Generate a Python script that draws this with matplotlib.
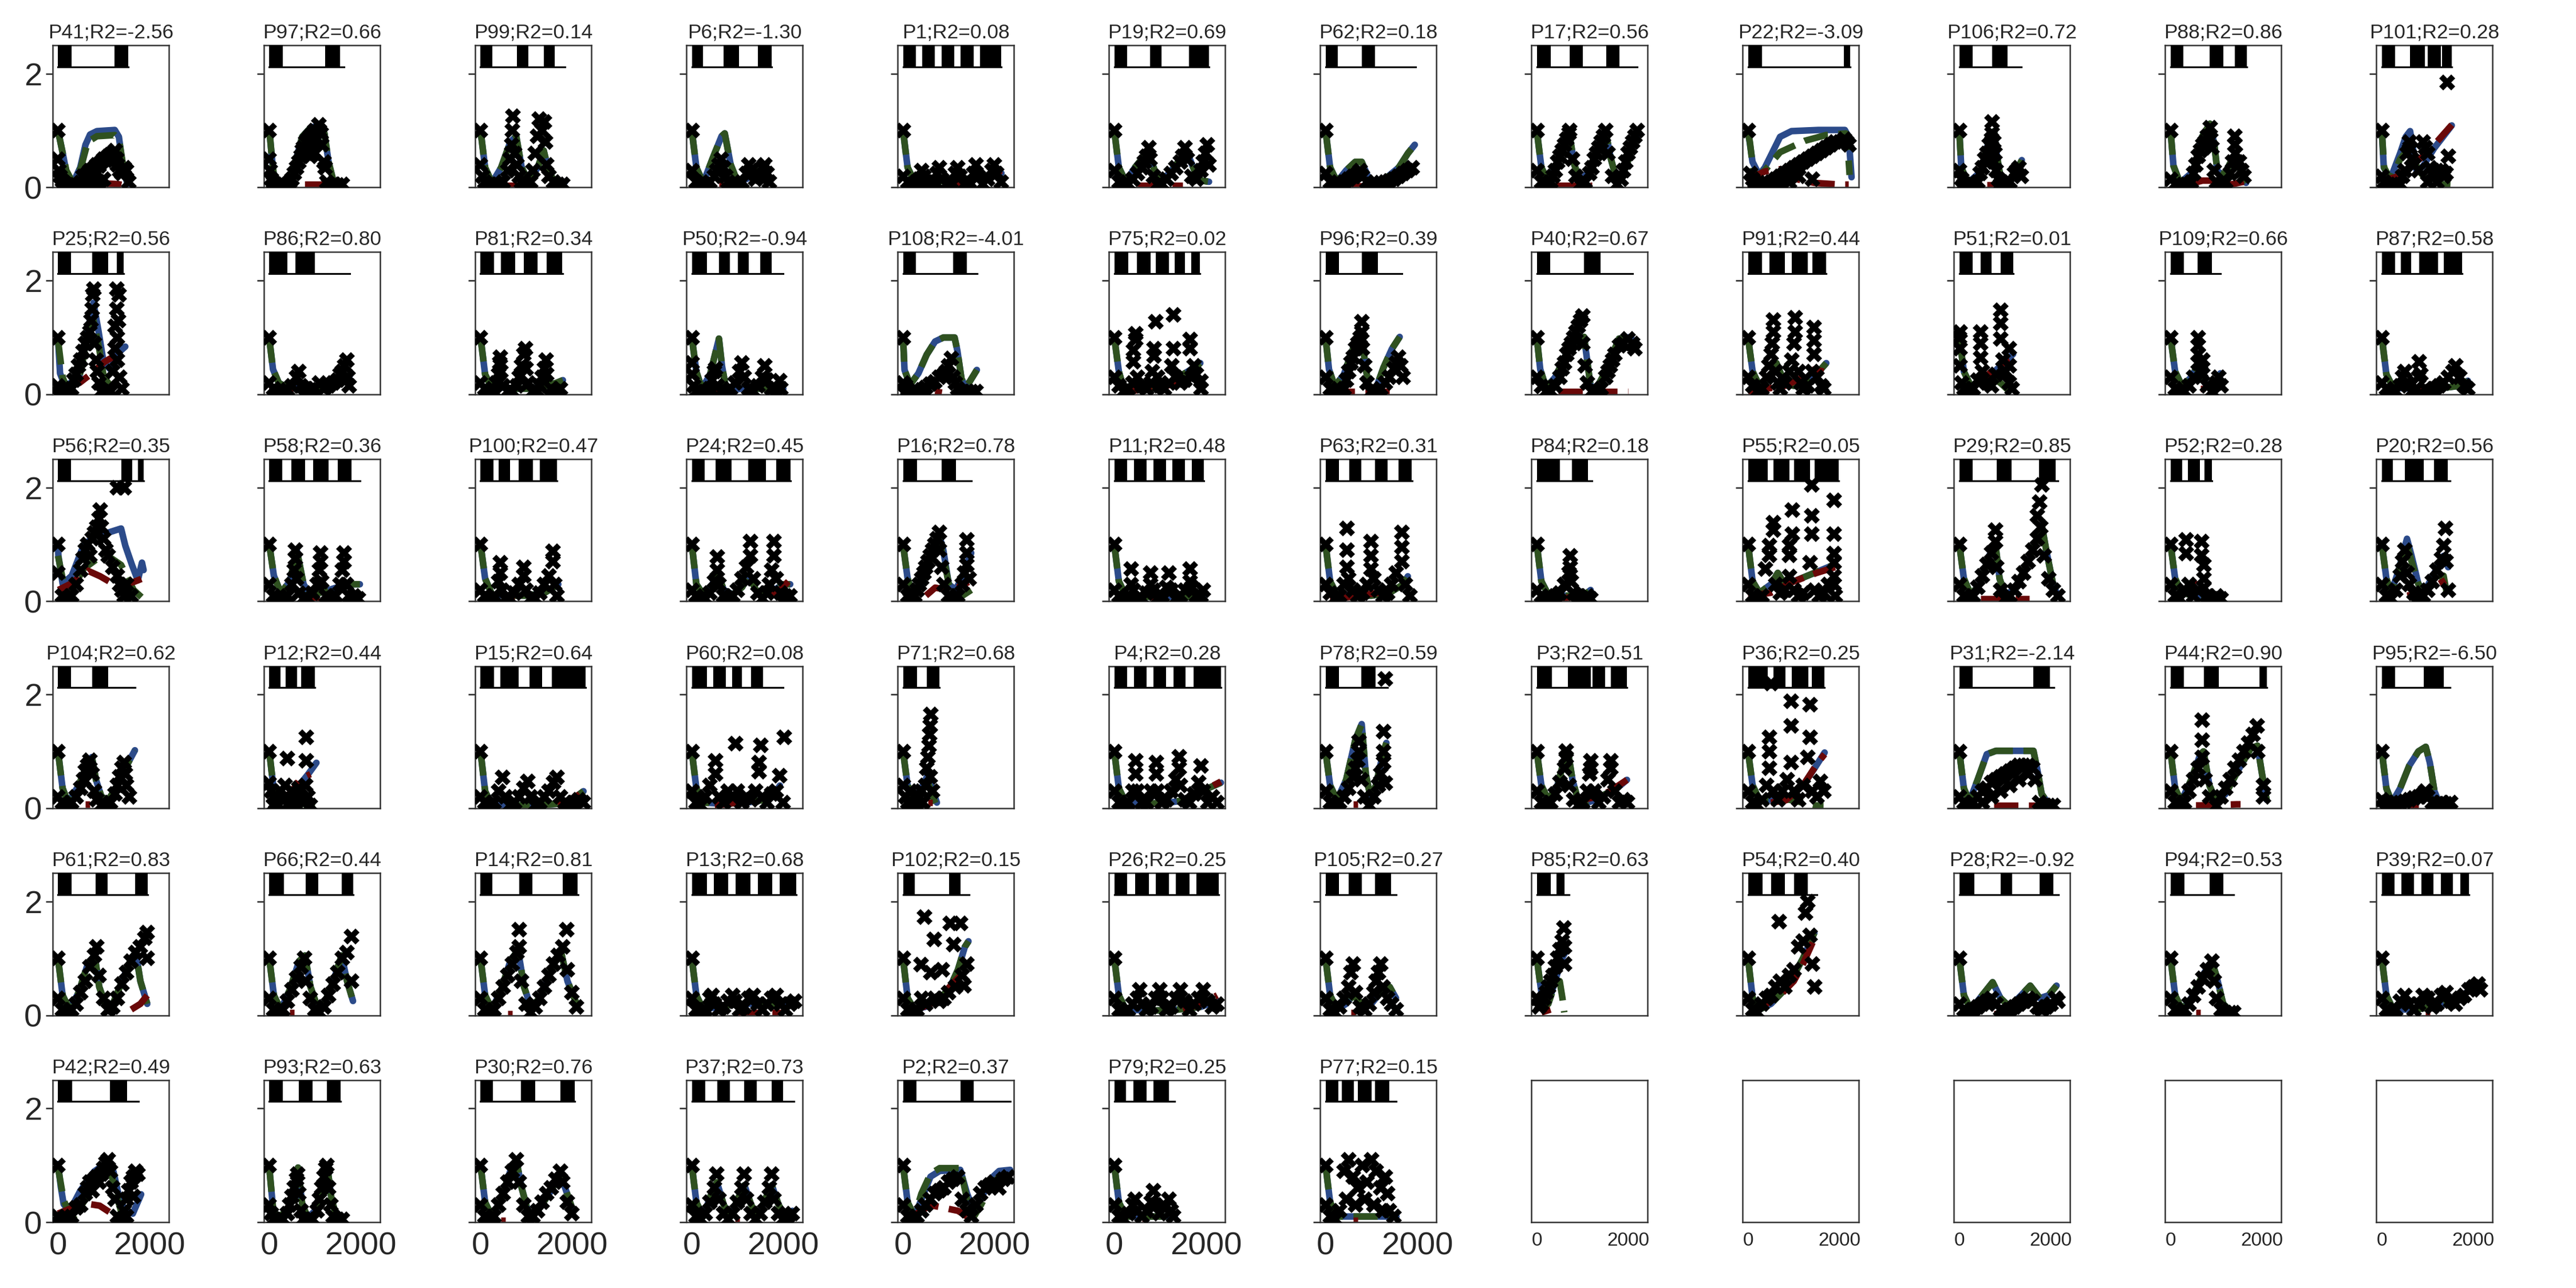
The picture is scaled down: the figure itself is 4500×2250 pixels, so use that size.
import numpy as np
import matplotlib
matplotlib.use("Agg")
import matplotlib.pyplot as plt

plt.rcParams['font.family'] = ['Liberation Sans', 'DejaVu Sans']

# panel labels and fit quality, row by row (6 x 12 grid, last 5 empty)
panel_ids = ["P41", "P97", "P99", "P6", "P1", "P19", "P62", "P17", "P22", "P106", "P88", "P101",
             "P25", "P86", "P81", "P50", "P108", "P75", "P96", "P40", "P91", "P51", "P109", "P87",
             "P56", "P58", "P100", "P24", "P16", "P11", "P63", "P84", "P55", "P29", "P52", "P20",
             "P104", "P12", "P15", "P60", "P71", "P4", "P78", "P3", "P36", "P31", "P44", "P95",
             "P61", "P66", "P14", "P13", "P102", "P26", "P105", "P85", "P54", "P28", "P94", "P39",
             "P42", "P93", "P30", "P37", "P2", "P79", "P77"]
r2_values = [-2.56, 0.66, 0.14, -1.30, 0.08, 0.69, 0.18, 0.56, -3.09, 0.72, 0.86, 0.28,
             0.56, 0.80, 0.34, -0.94, -4.01, 0.02, 0.39, 0.67, 0.44, 0.01, 0.66, 0.58,
             0.35, 0.36, 0.47, 0.45, 0.78, 0.48, 0.31, 0.18, 0.05, 0.85, 0.28, 0.56,
             0.62, 0.44, 0.64, 0.08, 0.68, 0.28, 0.59, 0.51, 0.25, -2.14, 0.90, -6.50,
             0.83, 0.44, 0.81, 0.68, 0.15, 0.25, 0.27, 0.63, 0.40, -0.92, 0.53, 0.07,
             0.49, 0.63, 0.76, 0.73, 0.37, 0.25, 0.15]

# dark periods of the protocol (black blocks) and protocol length
stim_on = [
    [(0, 290), (1240, 1530)], [(0, 293), (1220, 1546)], [(0, 260), (800, 1050), (1380, 1620)],
    [(0, 250), (700, 1030), (1450, 1750)], [(0, 280), (420, 700), (840, 1120), (1260, 1540), (1680, 2150)],
    [(0, 280), (780, 1030), (1630, 2070)], [(0, 270), (790, 1080)], [(0, 300), (720, 1000), (1520, 1800)],
    [(0, 300), (2090, 2230)], [(0, 285), (720, 1050)], [(0, 284), (860, 1150), (1410, 1670)],
    [(0, 285), (620, 935), (1000, 1290), (1320, 1530)],
    [(0, 282), (740, 1100), (1290, 1430)], [(0, 392), (574, 994)], [(0, 290), (450, 760), (950, 1250), (1450, 1780)],
    [(0, 330), (590, 830), (1010, 1250), (1500, 1740)], [(0, 287), (1096, 1400)],
    [(0, 310), (490, 790), (910, 1200), (1320, 1550), (1680, 1865)], [(0, 290), (790, 1140)],
    [(0, 290), (1034, 1390)], [(0, 300), (470, 800), (950, 1300), (1400, 1700)], [(0, 290), (470, 700), (910, 1180)],
    [(0, 290), (590, 910)], [(0, 290), (410, 640), (820, 1230), (1350, 1760)],
    [(0, 282), (1380, 1616), (1744, 1872)], [(0, 280), (480, 780), (960, 1300), (1500, 1800)],
    [(0, 280), (400, 650), (830, 1150), (1300, 1670)], [(0, 280), (520, 870), (1230, 1620), (1840, 2160)],
    [(0, 300), (850, 1160)], [(0, 280), (430, 700), (850, 1130), (1270, 1550), (1700, 1960)],
    [(0, 290), (520, 786), (1080, 1350), (1600, 1887)], [(0, 500), (770, 1120)],
    [(0, 430), (550, 900), (1000, 1350), (1450, 1980)], [(0, 290), (820, 1140), (1745, 2100)],
    [(0, 255), (380, 645), (735, 910)], [(0, 235), (500, 910), (1140, 1440)],
    [(0, 282), (740, 1100)], [(0, 245), (355, 610), (700, 995)], [(0, 290), (430, 830), (1070, 1340), (1560, 2300)],
    [(0, 330), (470, 740), (880, 1100), (1290, 1560)], [(0, 300), (520, 795)],
    [(0, 280), (430, 700), (860, 1130), (1290, 1560), (1730, 2330)], [(0, 290), (786, 1088)],
    [(0, 325), (680, 1180), (1215, 1495), (1620, 1975)], [(0, 430), (555, 820), (960, 1320), (1390, 1670)],
    [(0, 290), (1620, 1976)], [(0, 290), (733, 1052), (1940, 2100)], [(0, 290), (910, 1354)],
    [(0, 300), (820, 1080), (1680, 1960)], [(0, 320), (790, 1077), (1580, 1830)], [(0, 260), (840, 1130), (1800, 2120)],
    [(0, 330), (480, 800), (960, 1280), (1440, 1760), (1920, 2280)], [(0, 250), (1010, 1260)],
    [(0, 280), (450, 750), (900, 1200), (1350, 1650), (1800, 2280)], [(0, 290), (500, 790), (1080, 1430)],
    [(0, 300), (430, 600)], [(0, 320), (500, 800), (1000, 1300)], [(0, 330), (900, 1150), (1760, 2060)],
    [(0, 300), (850, 1150)], [(0, 280), (430, 700), (860, 1130), (1290, 1560), (1720, 1900)],
    [(0, 304), (1138, 1514)], [(0, 293), (640, 944), (1254, 1558)], [(0, 265), (880, 1190), (1750, 2060)],
    [(0, 300), (560, 830), (1150, 1420), (1750, 2000)], [(0, 290), (1260, 1550)],
    [(0, 260), (420, 700), (860, 1200)], [(0, 280), (350, 620), (700, 1000), (1080, 1400)],
]
stim_end = [1530, 1640, 1850, 1750, 2150, 2070, 1975, 2200, 2230, 1356, 1670, 1530,
            1430, 1760, 1800, 2000, 1625, 1865, 1675, 2100, 1710, 1180, 1090, 1760,
            1872, 1980, 1670, 2160, 1490, 1960, 1890, 1210, 1980, 2150, 910, 1490,
            1690, 995, 2300, 2000, 795, 2330, 1354, 1975, 1670, 2065, 2100, 1496,
            1960, 1830, 2130, 2280, 1440, 2280, 1540, 700, 1500, 2170, 1380, 1900,
            1755, 1558, 2060, 2230, 2340, 1320, 1550]

# model fit 1 (blue), flat x,y pairs
fit_blue = [
    [0, 1.0, 90, 0.65, 180, 0.28, 330, 0.08, 485, 0.35, 600, 0.75, 700, 0.93, 850, 0.99, 1240, 1.01, 1330, 0.89, 1420, 0.35, 1510, 0.08, 1570, 0.03],
    [0, 1.02, 60, 0.5, 111, 0.12, 233, 0.03, 400, 0.12, 537, 0.35, 719, 0.89, 900, 1.05, 1083, 1.09, 1205, 0.95, 1296, 0.45, 1388, 0.15, 1448, 0.07],
    [0, 1.0, 100, 0.35, 250, 0.08, 450, 0.35, 650, 0.8, 780, 0.9, 900, 0.35, 1050, 0.1, 1250, 0.35, 1380, 0.65, 1500, 0.25, 1650, 0.08, 1850, 0.1],
    [0, 1.0, 100, 0.35, 250, 0.08, 450, 0.5, 650, 0.9, 720, 0.95, 850, 0.4, 1000, 0.1, 1200, 0.15, 1400, 0.3, 1500, 0.2, 1700, 0.08],
    [0, 1.0, 100, 0.35, 250, 0.1, 600, 0.1, 1000, 0.12, 1400, 0.15, 1800, 0.2, 2150, 0.25],
    [0, 1.0, 100, 0.35, 250, 0.1, 450, 0.35, 650, 0.55, 760, 0.6, 880, 0.3, 1000, 0.1, 1200, 0.25, 1450, 0.5, 1600, 0.6, 1750, 0.3, 1900, 0.12, 2070, 0.1],
    [0, 1.0, 100, 0.35, 250, 0.1, 450, 0.3, 650, 0.45, 790, 0.45, 950, 0.15, 1100, 0.08, 1300, 0.15, 1600, 0.35, 1800, 0.6, 1950, 0.75],
    [0, 1.0, 100, 0.35, 250, 0.1, 450, 0.45, 620, 0.9, 700, 1.0, 820, 0.4, 950, 0.1, 1150, 0.3, 1350, 0.75, 1500, 1.0, 1620, 0.5, 1750, 0.12, 1950, 0.35, 2100, 0.75, 2200, 0.9],
    [0, 0.99, 97, 0.45, 242, 0.22, 367, 0.35, 534, 0.62, 700, 0.89, 950, 0.99, 1533, 1.01, 2116, 1.01, 2199, 0.89, 2262, 0.18],
    [0, 0.99, 43, 0.35, 187, 0.08, 474, 0.28, 666, 0.89, 762, 0.99, 810, 0.62, 906, 0.15, 1097, 0.08, 1289, 0.35, 1366, 0.48],
    [0, 1.0, 63, 0.38, 207, 0.08, 495, 0.28, 688, 0.89, 861, 1.12, 957, 0.75, 1024, 0.28, 1169, 0.22, 1361, 0.52, 1457, 0.48, 1573, 0.18, 1650, 0.08],
    [0, 0.99, 43, 0.35, 187, 0.15, 400, 0.6, 522, 0.89, 618, 0.99, 700, 0.6, 762, 0.28, 906, 0.38, 1145, 0.69, 1337, 0.89, 1529, 1.09],
    [0, 0.98, 44, 0.37, 154, 0.14, 465, 0.31, 647, 1.11, 775, 1.61, 885, 1.11, 994, 0.57, 1140, 0.44, 1287, 0.71, 1470, 0.84],
    [0, 0.98, 81, 0.44, 209, 0.2, 400, 0.12, 700, 0.1, 1000, 0.12, 1400, 0.2, 1600, 0.3, 1760, 0.33],
    [0, 1.0, 100, 0.35, 250, 0.1, 500, 0.12, 800, 0.1, 1100, 0.1, 1400, 0.15, 1650, 0.2, 1800, 0.25],
    [0, 1.0, 100, 0.4, 220, 0.1, 400, 0.35, 593, 0.98, 660, 0.5, 740, 0.14, 900, 0.08, 1100, 0.1, 1400, 0.1, 1700, 0.1, 2000, 0.1],
    [0, 1.0, 32, 0.43, 154, 0.17, 336, 0.37, 518, 0.7, 700, 0.93, 883, 1.0, 1126, 1.0, 1187, 0.77, 1278, 0.27, 1370, 0.13, 1461, 0.23, 1613, 0.43],
    [0, 1.0, 100, 0.4, 200, 0.12, 400, 0.15, 500, 0.3, 600, 0.15, 800, 0.1, 1000, 0.15, 1200, 0.2, 1400, 0.3, 1600, 0.4, 1800, 0.5, 1880, 0.55],
    [0, 1.0, 75, 0.44, 200, 0.14, 400, 0.35, 600, 0.8, 800, 1.0, 870, 0.5, 950, 0.12, 1100, 0.1, 1265, 0.47, 1450, 0.8, 1620, 1.01],
    [0, 1.0, 75, 0.44, 200, 0.12, 400, 0.3, 700, 0.8, 900, 0.98, 1034, 1.01, 1100, 0.6, 1176, 0.14, 1300, 0.1, 1500, 0.4, 1650, 0.7, 1798, 0.98, 2064, 1.01],
    [0, 1.0, 100, 0.4, 250, 0.15, 500, 0.3, 620, 0.55, 800, 0.2, 1000, 0.15, 1200, 0.2, 1400, 0.3, 1600, 0.45, 1710, 0.55],
    [0, 1.0, 100, 0.4, 250, 0.15, 450, 0.2, 700, 0.35, 900, 0.5, 1100, 0.65, 1176, 0.71],
    [0, 1.0, 100, 0.4, 250, 0.15, 450, 0.3, 590, 0.5, 750, 0.2, 910, 0.1, 1000, 0.2, 1088, 0.37],
    [0, 1.0, 100, 0.35, 250, 0.12, 600, 0.1, 1000, 0.1, 1400, 0.12, 1700, 0.15, 1880, 0.24],
    [0, 1.0, 8, 0.8, 100, 0.31, 300, 0.45, 556, 0.98, 800, 1.15, 1104, 1.21, 1378, 1.28, 1470, 0.98, 1616, 0.64, 1744, 0.37, 1835, 0.68, 1870, 0.55],
    [0, 1.0, 100, 0.45, 250, 0.15, 450, 0.35, 600, 0.9, 750, 0.3, 900, 0.1, 1100, 0.15, 1300, 0.2, 1500, 0.25, 1800, 0.3, 1980, 0.3],
    [0, 1.0, 100, 0.4, 250, 0.12, 600, 0.1, 1000, 0.1, 1400, 0.15, 1600, 0.25, 1700, 0.3],
    [0, 1.0, 100, 0.3, 250, 0.12, 450, 0.3, 560, 0.5, 700, 0.2, 900, 0.12, 1100, 0.25, 1250, 0.45, 1400, 0.2, 1600, 0.12, 1800, 0.2, 2000, 0.3, 2150, 0.3],
    [0, 1.0, 100, 0.4, 220, 0.1, 400, 0.3, 600, 0.8, 780, 1.2, 880, 0.9, 1000, 0.3, 1150, 0.2, 1300, 0.45, 1490, 0.85],
    [0, 1.0, 100, 0.35, 250, 0.1, 700, 0.08, 1200, 0.08, 1700, 0.08, 1960, 0.1],
    [0, 1.0, 100, 0.35, 250, 0.12, 600, 0.1, 1000, 0.1, 1400, 0.15, 1700, 0.3, 1798, 0.44],
    [0, 1.0, 100, 0.35, 250, 0.12, 600, 0.1, 900, 0.1, 1100, 0.15, 1176, 0.2],
    [0, 1.0, 100, 0.35, 250, 0.15, 500, 0.3, 650, 0.5, 800, 0.3, 1000, 0.35, 1300, 0.45, 1600, 0.55, 1900, 0.65],
    [0, 1.0, 100, 0.4, 250, 0.12, 450, 0.3, 650, 0.8, 790, 1.0, 880, 0.4, 1000, 0.12, 1200, 0.2, 1450, 0.6, 1650, 1.0, 1800, 1.35, 1900, 0.9, 2050, 0.3, 2150, 0.1],
    [0, 1.0, 100, 0.4, 250, 0.15, 500, 0.1, 800, 0.1, 1100, 0.1],
    [0, 1.0, 100, 0.4, 200, 0.15, 350, 0.5, 550, 1.1, 650, 0.8, 800, 0.3, 950, 0.2, 1150, 0.5, 1350, 0.8, 1450, 0.6],
    [0, 1.0, 100, 0.35, 220, 0.1, 450, 0.4, 650, 0.8, 740, 0.9, 830, 0.5, 950, 0.2, 1100, 0.15, 1300, 0.4, 1500, 0.75, 1680, 1.02],
    [0, 1.0, 100, 0.3, 250, 0.12, 450, 0.2, 650, 0.4, 850, 0.6, 1030, 0.8],
    [0, 1.0, 100, 0.3, 250, 0.05, 700, 0.05, 1200, 0.05, 1700, 0.08, 2000, 0.15, 2250, 0.3],
    [0, 1.0, 100, 0.35, 250, 0.1, 700, 0.08, 1200, 0.1, 1600, 0.15, 1800, 0.25, 1926, 0.4],
    [0, 1.0, 100, 0.4, 250, 0.15, 400, 0.35, 550, 0.6, 650, 0.3, 739, 0.1],
    [0, 1.0, 100, 0.35, 250, 0.1, 700, 0.08, 1200, 0.1, 1600, 0.15, 1900, 0.3, 2330, 0.45],
    [0, 1.0, 100, 0.4, 250, 0.15, 450, 0.5, 650, 1.2, 790, 1.48, 880, 0.6, 980, 0.2, 1100, 0.4, 1250, 0.95, 1330, 1.15],
    [0, 1.0, 100, 0.4, 250, 0.15, 450, 0.4, 600, 0.85, 680, 1.0, 780, 0.5, 900, 0.15, 1100, 0.1, 1300, 0.15, 1500, 0.25, 1750, 0.35, 1970, 0.5],
    [0, 1.0, 100, 0.4, 250, 0.15, 600, 0.15, 900, 0.2, 1200, 0.4, 1450, 0.7, 1673, 0.98],
    [0, 1.0, 100, 0.35, 220, 0.12, 400, 0.5, 600, 0.95, 800, 1.01, 1620, 1.01, 1700, 0.7, 1800, 0.25, 1950, 0.08],
    [0, 1.0, 100, 0.35, 230, 0.12, 450, 0.5, 650, 0.95, 720, 1.0, 850, 0.4, 1000, 0.12, 1200, 0.25, 1500, 0.7, 1750, 1.05, 1900, 1.1, 2000, 0.6, 2100, 0.15],
    [0, 1.0, 100, 0.35, 220, 0.1, 400, 0.35, 600, 0.75, 800, 1.0, 960, 1.08, 1050, 0.8, 1150, 0.3, 1250, 0.1, 1350, 0.05],
    [0, 1.0, 100, 0.35, 250, 0.1, 450, 0.4, 650, 0.9, 800, 1.05, 900, 0.5, 1050, 0.15, 1200, 0.2, 1400, 0.6, 1600, 1.0, 1700, 1.1, 1800, 0.6, 1950, 0.2],
    [0, 1.0, 100, 0.35, 250, 0.1, 450, 0.45, 650, 0.95, 780, 1.05, 900, 0.5, 1050, 0.15, 1200, 0.2, 1400, 0.6, 1580, 1.05, 1700, 0.6, 1830, 0.25],
    [0, 1.0, 100, 0.35, 250, 0.1, 450, 0.45, 650, 0.95, 820, 1.15, 950, 0.5, 1100, 0.15, 1300, 0.3, 1550, 0.8, 1750, 1.15, 1900, 0.6, 2100, 0.2],
    [0, 1.0, 100, 0.35, 250, 0.1, 600, 0.15, 1000, 0.2, 1400, 0.2, 1800, 0.2, 2200, 0.2],
    [0, 1.0, 100, 0.3, 250, 0.1, 500, 0.15, 800, 0.3, 1000, 0.45, 1200, 0.8, 1350, 1.2, 1430, 1.3],
    [0, 1.0, 100, 0.35, 250, 0.1, 800, 0.08, 1400, 0.1, 1900, 0.15, 2250, 0.25],
    [0, 1.0, 100, 0.35, 250, 0.1, 450, 0.2, 600, 0.35, 800, 0.2, 1000, 0.2, 1200, 0.4, 1400, 0.5, 1540, 0.3],
    [0, 1.0, 100, 0.4, 250, 0.2, 400, 0.6, 550, 1.0, 620, 1.1],
    [0, 1.0, 100, 0.3, 250, 0.1, 500, 0.2, 800, 0.45, 1000, 0.7, 1200, 1.0, 1450, 1.45],
    [0, 1.0, 100, 0.35, 250, 0.1, 500, 0.35, 728, 0.58, 900, 0.3, 1100, 0.15, 1350, 0.35, 1550, 0.52, 1760, 0.3, 1950, 0.35, 2125, 0.52],
    [0, 1.0, 100, 0.35, 250, 0.1, 450, 0.3, 700, 0.7, 900, 0.95, 1000, 0.7, 1150, 0.2, 1300, 0.08],
    [0, 1.0, 100, 0.35, 250, 0.1, 700, 0.1, 1200, 0.15, 1700, 0.3, 2000, 0.5, 2150, 0.57],
    [0, 1.02, 61, 0.62, 122, 0.32, 243, 0.18, 485, 0.55, 788, 0.89, 1090, 1.06, 1211, 0.89, 1332, 0.45, 1453, 0.22, 1634, 0.15, 1816, 0.49],
    [0, 0.96, 81, 0.25, 172, 0.08, 400, 0.2, 537, 0.49, 628, 0.96, 719, 0.32, 840, 0.08, 1000, 0.2, 1175, 0.69, 1266, 0.99, 1357, 0.42, 1448, 0.15, 1600, 0.1],
    [0, 1.0, 100, 0.35, 250, 0.1, 450, 0.4, 650, 0.9, 780, 1.1, 900, 0.6, 1050, 0.15, 1250, 0.2, 1500, 0.5, 1750, 0.85, 1850, 0.6, 2000, 0.25],
    [0, 1.0, 100, 0.35, 250, 0.1, 450, 0.55, 550, 0.7, 700, 0.3, 850, 0.1, 1000, 0.4, 1150, 0.65, 1300, 0.3, 1450, 0.1, 1600, 0.4, 1750, 0.65, 1900, 0.3, 2050, 0.1, 2200, 0.2],
    [0, 1.0, 100, 0.35, 250, 0.1, 400, 0.4, 600, 0.8, 800, 0.9, 1250, 0.92, 1400, 0.5, 1550, 0.2, 1700, 0.4, 1900, 0.75, 2100, 0.9, 2340, 0.92],
    [0, 1.0, 100, 0.35, 250, 0.1, 700, 0.1, 1000, 0.1, 1320, 0.1],
    [0, 1.0, 100, 0.35, 250, 0.1, 700, 0.1, 1200, 0.1, 1550, 0.1],
]

# model fit 2 (green, dashed); None = same trace as blue
fit_green = [None] * len(panel_ids)
fit_green[0] = [0, 1.0, 90, 0.65, 180, 0.3, 330, 0.07, 500, 0.35, 650, 0.8, 850, 0.9, 1240, 0.92, 1330, 0.85, 1430, 0.35, 1540, 0.03]
fit_green[8] = [0, 0.95, 40, 0.8, 110, 0.32, 200, 0.2, 367, 0.3, 700, 0.62, 1241, 0.82, 1700, 0.92, 2137, 0.95, 2180, 0.7, 2220, 0.22]
fit_green[11] = [0, 1.0, 50, 0.35, 200, 0.12, 400, 0.5, 600, 0.7, 800, 0.3, 1000, 0.12, 1100, 0.06, 1500, 0.05]
fit_green[12] = [0, 0.95, 100, 0.3, 200, 0.1, 450, 0.25, 650, 1.0, 775, 1.3, 900, 0.8, 1000, 0.3, 1150, 0.15, 1300, 0.05, 1450, 0.05]
fit_green[21] = [0, 1.0, 100, 0.4, 250, 0.15, 450, 0.2, 700, 0.3, 900, 0.2, 1100, 0.05, 1180, 0.05]
fit_green[24] = [0, 0.8, 190, 0.04, 556, 0.57, 1013, 0.84, 1378, 0.64, 1652, 0.2, 1870, 0.04]
fit_green[28] = [0, 1.0, 100, 0.4, 220, 0.1, 400, 0.3, 600, 0.75, 780, 1.1, 880, 0.8, 1000, 0.3, 1150, 0.05, 1300, 0.1, 1490, 0.2]
fit_green[35] = [0, 1.0, 100, 0.4, 200, 0.15, 350, 0.5, 550, 1.0, 650, 0.7, 800, 0.3, 950, 0.15, 1150, 0.4, 1350, 0.45, 1443, 0.04]
fit_green[37] = [0, 1.0, 100, 0.3, 250, 0.12, 450, 0.15, 650, 0.1, 850, 0.05, 1000, 0.05]
fit_green[40] = [0, 1.0, 100, 0.4, 250, 0.15, 400, 0.3, 550, 0.45, 650, 0.2, 739, 0.04]
fit_green[44] = [0, 1.0, 100, 0.4, 250, 0.15, 600, 0.15, 900, 0.15, 1200, 0.1, 1450, 0.05, 1650, 0.05]
fit_green[55] = [0, 1.0, 100, 0.4, 250, 0.2, 400, 0.55, 500, 0.6, 560, 0.3, 600, 0.05]
fit_green[60] = [0, 0.96, 122, 0.39, 303, 0.05, 727, 0.55, 1030, 0.82, 1150, 0.89, 1271, 0.49, 1392, 0.15, 1695, 0.08]
fit_green[64] = [0, 1.0, 100, 0.35, 250, 0.1, 400, 0.5, 600, 0.85, 800, 0.95, 1250, 0.95, 1400, 0.4, 1550, 0.1, 1700, 0.3, 1900, 0.6, 2100, 0.8, 2340, 0.85]

# model fit 3 (dark red, dashed)
fit_red = [
    [100, 0.03, 400, 0.06, 700, 0.07, 1000, 0.07, 1300, 0.06, 1500, 0.03],
    [20, 0.04, 400, 0.05, 800, 0.05, 1175, 0.05],
    [300, 0.03, 800, 0.03], [600, 0.03, 1000, 0.03],
    [1000, 0.05, 1500, 0.1, 1900, 0.2, 2150, 0.3],
    [500, 0.03, 1500, 0.03], [300, 0.02, 1000, 0.02], [400, 0.03, 1200, 0.03],
    [0, 0.08, 200, 0.22, 367, 0.28, 700, 0.32, 1033, 0.15, 1450, 0.08, 2033, 0.05, 2200, 0.05],
    [600, 0.04, 800, 0.04],
    [500, 0.08, 700, 0.12, 900, 0.12, 1100, 0.05, 1300, 0.05, 1600, 0.1],
    [0, 0.12, 300, 0.18, 600, 0.35, 900, 0.55, 1200, 0.8, 1530, 1.1],
    [190, 0.14, 465, 0.2, 739, 0.37, 1013, 0.57, 1287, 0.7, 1400, 0.78],
    [0, 0.05, 500, 0.08, 1000, 0.05], [1600, 0.05, 1750, 0.05], [300, 0.03, 600, 0.03],
    [700, 0.05, 850, 0.03],
    [300, 0.05, 700, 0.1, 1100, 0.15, 1500, 0.2, 1850, 0.25],
    [100, 0.05, 600, 0.05, 1100, 0.05, 1600, 0.05],
    [466, 0.05, 700, 0.05, 1000, 0.05, 2000, 0.05],
    [0, 0.05, 400, 0.1, 800, 0.15, 1200, 0.3, 1450, 0.44, 1650, 0.4],
    [289, 0.14, 500, 0.25, 700, 0.4, 999, 0.57, 1100, 0.6],
    [650, 0.1, 750, 0.1], [821, 0.12, 1000, 0.1],
    [8, 0.2, 282, 0.31, 647, 0.54, 922, 0.44, 1287, 0.27, 1652, 0.34, 1872, 0.41],
    [900, 0.03, 1100, 0.03], [650, 0.05, 750, 0.05],
    [1700, 0.1, 1926, 0.2, 2110, 0.35],
    [500, 0.1, 702, 0.24, 1000, 0.2, 1200, 0.25, 1433, 0.34],
    [800, 0.03, 1000, 0.03], [100, 0.03, 1600, 0.2], [500, 0.05, 1100, 0.1],
    [0, 0.1, 500, 0.15, 1000, 0.35, 1500, 0.5, 1900, 0.6],
    [466, 0.05, 643, 0.05, 1530, 0.05], [466, 0.37, 550, 0.3],
    [555, 0.1, 900, 0.15, 1390, 0.37],
    [600, 0.07, 700, 0.07], [300, 0.15, 500, 0.3, 666, 0.51, 900, 0.6],
    [1700, 0.05, 2000, 0.15, 2250, 0.3], [500, 0.05, 1000, 0.1], [550, 0.1, 650, 0.1],
    [1500, 0.1, 1926, 0.3, 2330, 0.47], [600, 0.07, 700, 0.07],
    [800, 0.1, 1000, 0.15, 1300, 0.2, 1600, 0.3, 1970, 0.5],
    [500, 0.1, 821, 0.14, 1200, 0.4, 1532, 0.81, 1673, 0.95],
    [750, 0.05, 1050, 0.05, 1550, 0.05, 1650, 0.05],
    [555, 0.05, 650, 0.05, 1450, 0.07, 1530, 0.07], [600, 0.03, 800, 0.03],
    [1600, 0.1, 1800, 0.2, 1950, 0.35], [450, 0.05, 550, 0.05], [600, 0.03, 700, 0.03],
    [1000, 0.05, 2000, 0.05],
    [300, 0.1, 600, 0.2, 900, 0.4, 1200, 0.65, 1430, 0.85],
    [1500, 0.1, 1900, 0.2, 2250, 0.35], [550, 0.05, 650, 0.05], [100, 0.05, 300, 0.1],
    [100, 0.1, 400, 0.2, 700, 0.35, 1000, 0.6, 1200, 0.9, 1450, 1.35],
    [750, 0.03, 850, 0.03], [550, 0.05, 650, 0.05], [950, 0.05, 1050, 0.05],
    [0, 0.15, 303, 0.25, 667, 0.32, 909, 0.29, 1120, 0.18],
    [650, 0.03, 750, 0.03], [450, 0.03, 550, 0.03], [950, 0.03, 1050, 0.03],
    [300, 0.15, 600, 0.3, 900, 0.25, 1200, 0.2, 1400, 0.1],
    [600, 0.03, 700, 0.03], [600, 0.03, 700, 0.03],
]

# observed data (black crosses), flat x,y pairs
obs = [
    [0, 1.0, 0, 0.5, 20, 0.3, 50, 0.2, 100, 0.12, 150, 0.07, 200, 0.04, 300, 0.03, 400, 0.04, 500, 0.08, 550, 0.2, 600, 0.15, 650, 0.25, 700, 0.3, 750, 0.28, 800, 0.35, 850, 0.4, 900, 0.38, 950, 0.45, 1000, 0.5, 1050, 0.48, 1100, 0.55, 1150, 0.58, 1200, 0.6, 1250, 0.65, 1280, 0.5, 1300, 0.4, 1350, 0.3, 1400, 0.25, 1450, 0.35, 1500, 0.3, 1550, 0.1, 600, 0.05, 700, 0.05, 800, 0.05, 900, 0.1, 1000, 0.15],
    [0, 1.0, 0, 0.5, 20, 0.3, 50, 0.15, 100, 0.08, 150, 0.05, 200, 0.03, 300, 0.02, 400, 0.05, 450, 0.1, 500, 0.15, 550, 0.25, 600, 0.35, 650, 0.45, 700, 0.55, 720, 0.65, 750, 0.7, 800, 0.8, 850, 0.85, 880, 0.75, 900, 0.9, 950, 0.65, 960, 0.95, 1000, 1.0, 1050, 0.85, 1080, 1.1, 1100, 1.0, 1130, 0.95, 1150, 0.75, 1200, 0.45, 1220, 0.35, 1260, 0.1, 1300, 0.05, 1400, 0.05, 1500, 0.04, 1600, 0.05, 900, 0.55, 1000, 0.6],
    [0, 1.0, 0, 0.4, 50, 0.2, 100, 0.1, 200, 0.05, 300, 0.03, 400, 0.05, 500, 0.1, 600, 0.3, 650, 0.5, 680, 0.75, 700, 1.0, 710, 1.25, 750, 0.6, 800, 0.4, 850, 0.2, 900, 0.1, 1000, 0.05, 1100, 0.1, 1150, 0.3, 1200, 0.6, 1250, 0.9, 1280, 1.2, 1350, 1.0, 1400, 1.15, 1420, 0.8, 1450, 0.4, 1500, 0.2, 1600, 0.1, 1700, 0.05, 1800, 0.05],
    [0, 1.0, 0, 0.3, 100, 0.1, 200, 0.05, 300, 0.05, 400, 0.1, 500, 0.2, 550, 0.3, 600, 0.4, 650, 0.5, 700, 0.35, 750, 0.2, 800, 0.1, 900, 0.05, 1000, 0.05, 1100, 0.1, 1200, 0.25, 1250, 0.4, 1300, 0.3, 1400, 0.15, 1500, 0.2, 1550, 0.35, 1600, 0.4, 1650, 0.25, 1700, 0.1],
    [0, 1.0, 0, 0.2, 100, 0.1, 200, 0.05, 300, 0.05, 350, 0.15, 400, 0.3, 450, 0.2, 500, 0.1, 600, 0.05, 700, 0.1, 750, 0.25, 800, 0.35, 850, 0.15, 950, 0.05, 1050, 0.1, 1150, 0.25, 1200, 0.35, 1250, 0.2, 1350, 0.05, 1450, 0.1, 1550, 0.25, 1600, 0.4, 1650, 0.2, 1750, 0.05, 1850, 0.15, 1950, 0.3, 2000, 0.4, 2050, 0.25, 2150, 0.1],
    [0, 1.0, 0, 0.3, 100, 0.1, 200, 0.05, 300, 0.05, 400, 0.15, 500, 0.25, 600, 0.35, 650, 0.45, 700, 0.55, 750, 0.7, 780, 0.5, 850, 0.2, 950, 0.05, 1050, 0.05, 1150, 0.15, 1250, 0.25, 1350, 0.35, 1450, 0.45, 1500, 0.55, 1550, 0.7, 1600, 0.5, 1700, 0.2, 1800, 0.15, 1900, 0.3, 1950, 0.45, 2000, 0.6, 2030, 0.75, 2070, 0.4],
    [0, 1.0, 0, 0.25, 100, 0.1, 200, 0.05, 300, 0.05, 400, 0.1, 500, 0.15, 600, 0.2, 700, 0.25, 750, 0.3, 800, 0.2, 900, 0.1, 1000, 0.05, 1100, 0.05, 1200, 0.08, 1300, 0.1, 1400, 0.12, 1500, 0.15, 1600, 0.2, 1700, 0.25, 1800, 0.3, 1900, 0.35],
    [0, 1.0, 0, 0.3, 100, 0.1, 200, 0.05, 300, 0.1, 350, 0.2, 400, 0.3, 450, 0.45, 500, 0.55, 550, 0.65, 600, 0.75, 650, 0.85, 700, 0.95, 720, 1.0, 780, 0.5, 850, 0.2, 950, 0.05, 1050, 0.1, 1150, 0.25, 1200, 0.35, 1250, 0.5, 1300, 0.6, 1350, 0.7, 1400, 0.8, 1450, 0.9, 1500, 1.0, 1550, 0.6, 1650, 0.2, 1750, 0.05, 1850, 0.15, 1900, 0.3, 1950, 0.45, 2000, 0.6, 2050, 0.7, 2100, 0.8, 2150, 0.9, 2200, 1.0],
    [0, 1.0, 60, 0.25, 100, 0.15, 150, 0.08, 200, 0.05, 300, 0.05, 400, 0.08, 500, 0.1, 600, 0.15, 700, 0.2, 800, 0.25, 900, 0.3, 1000, 0.35, 1100, 0.4, 1200, 0.45, 1300, 0.5, 1400, 0.55, 1500, 0.6, 1600, 0.65, 1700, 0.7, 1800, 0.75, 1900, 0.8, 2000, 0.8, 2100, 0.85, 2150, 0.8, 2200, 0.75, 1400, 0.15, 300, 0.02, 500, 0.03, 700, 0.05, 900, 0.1, 1100, 0.2],
    [0, 1.0, 0, 0.3, 50, 0.15, 100, 0.05, 200, 0.02, 300, 0.05, 400, 0.1, 450, 0.25, 500, 0.35, 550, 0.5, 600, 0.6, 650, 0.75, 700, 0.85, 720, 1.15, 720, 0.95, 750, 0.8, 780, 0.6, 800, 0.3, 850, 0.15, 900, 0.05, 1000, 0.05, 1100, 0.1, 1200, 0.25, 1250, 0.3, 1300, 0.35, 1350, 0.2, 750, 0.45, 700, 0.6],
    [0, 1.0, 0, 0.15, 100, 0.05, 200, 0.03, 350, 0.05, 450, 0.1, 500, 0.25, 550, 0.4, 600, 0.55, 650, 0.65, 700, 0.75, 750, 0.8, 800, 0.9, 870, 1.05, 880, 0.85, 900, 0.7, 950, 0.3, 1000, 0.1, 1100, 0.05, 1200, 0.1, 1300, 0.25, 1350, 0.45, 1400, 0.9, 1400, 0.75, 1420, 0.6, 1450, 0.45, 1500, 0.45, 1550, 0.3, 1600, 0.2],
    [0, 1.0, 0, 0.2, 50, 0.1, 150, 0.05, 300, 0.03, 400, 0.05, 450, 0.2, 500, 0.3, 550, 0.6, 600, 0.8, 620, 0.7, 650, 0.5, 700, 0.4, 800, 0.3, 900, 0.8, 950, 0.7, 1000, 0.6, 1050, 0.35, 1100, 0.25, 1150, 0.2, 1200, 0.3, 1250, 0.25, 1300, 0.3, 1350, 0.2, 1400, 0.25, 1430, 1.85, 1450, 0.55, 1000, 0.1, 1200, 0.1],
    [0, 1.0, 0, 0.15, 50, 0.1, 100, 0.05, 200, 0.05, 300, 0.1, 350, 0.25, 400, 0.35, 450, 0.5, 500, 0.6, 550, 0.75, 600, 0.9, 650, 1.0, 700, 1.1, 720, 1.3, 740, 1.5, 760, 1.75, 780, 1.85, 800, 0.9, 830, 0.6, 860, 0.4, 900, 0.2, 950, 0.05, 1000, 0.05, 1100, 0.1, 1150, 0.05, 1200, 0.4, 1250, 1.2, 1280, 1.5, 1290, 1.85, 1330, 1.75, 1300, 1.0, 1250, 0.8, 1300, 0.6, 1350, 0.3, 1400, 0.1, 1320, 1.3],
    [0, 1.0, 0, 0.2, 100, 0.1, 200, 0.05, 300, 0.05, 400, 0.08, 500, 0.15, 600, 0.3, 650, 0.4, 700, 0.15, 800, 0.1, 900, 0.08, 1000, 0.1, 1100, 0.2, 1200, 0.1, 1300, 0.15, 1400, 0.2, 1500, 0.25, 1550, 0.35, 1600, 0.4, 1650, 0.5, 1700, 0.6, 1720, 0.3, 1750, 0.15],
    [0, 1.0, 0, 0.2, 100, 0.1, 200, 0.05, 300, 0.05, 350, 0.2, 400, 0.35, 420, 0.55, 430, 0.65, 450, 0.4, 500, 0.15, 600, 0.05, 700, 0.05, 800, 0.15, 850, 0.3, 900, 0.5, 950, 0.7, 980, 0.8, 1000, 0.45, 1050, 0.2, 1150, 0.05, 1250, 0.05, 1300, 0.15, 1350, 0.3, 1400, 0.45, 1430, 0.6, 1450, 0.35, 1550, 0.1, 1650, 0.05, 1750, 0.1],
    [0, 1.0, 0, 0.55, 10, 0.35, 50, 0.15, 100, 0.05, 200, 0.05, 300, 0.05, 400, 0.1, 450, 0.25, 500, 0.4, 520, 0.45, 560, 0.15, 650, 0.05, 750, 0.05, 850, 0.1, 950, 0.2, 1050, 0.4, 1100, 0.55, 1150, 0.3, 1250, 0.1, 1350, 0.05, 1450, 0.15, 1550, 0.3, 1600, 0.5, 1650, 0.25, 1750, 0.1, 1850, 0.1, 1920, 0.24, 1950, 0.1],
    [0, 1.0, 0, 0.2, 50, 0.15, 100, 0.08, 200, 0.05, 300, 0.05, 400, 0.08, 500, 0.12, 600, 0.18, 700, 0.22, 800, 0.3, 900, 0.35, 950, 0.4, 1000, 0.5, 1060, 0.63, 1100, 0.3, 1150, 0.2, 1200, 0.1, 1300, 0.05, 1400, 0.05, 1500, 0.05, 1600, 0.05],
    [0, 1.0, 0, 0.3, 100, 0.15, 200, 0.05, 300, 0.1, 400, 0.2, 412, 0.57, 412, 0.77, 473, 0.97, 473, 1.07, 500, 0.3, 600, 0.15, 700, 0.1, 800, 0.2, 836, 0.4, 866, 0.67, 866, 0.8, 909, 1.28, 950, 0.3, 1000, 0.15, 1100, 0.1, 1200, 0.2, 1260, 0.5, 1290, 0.8, 1290, 1.4, 1350, 0.3, 1450, 0.2, 1550, 0.25, 1653, 0.97, 1653, 0.8, 1700, 0.3, 1744, 0.5, 1800, 0.35, 1894, 0.23, 1900, 0.1],
    [0, 1.0, 0, 0.3, 100, 0.1, 200, 0.05, 300, 0.05, 400, 0.1, 450, 0.25, 500, 0.4, 550, 0.55, 600, 0.65, 650, 0.8, 700, 0.9, 750, 1.0, 790, 1.28, 790, 1.1, 800, 0.8, 850, 0.5, 900, 0.2, 1000, 0.05, 1100, 0.05, 1200, 0.1, 1300, 0.2, 1400, 0.3, 1500, 0.45, 1550, 0.55, 1600, 0.65, 1650, 0.5, 1700, 0.3],
    [0, 1.0, 0, 0.3, 100, 0.14, 200, 0.05, 300, 0.05, 400, 0.15, 500, 0.3, 550, 0.45, 600, 0.55, 650, 0.7, 700, 0.8, 750, 0.9, 800, 1.0, 850, 1.1, 900, 1.2, 950, 1.3, 1000, 1.38, 1000, 0.9, 1050, 0.5, 1100, 0.2, 1200, 0.05, 1300, 0.05, 1400, 0.1, 1500, 0.3, 1550, 0.4, 1600, 0.5, 1650, 0.6, 1700, 0.7, 1800, 0.85, 1900, 0.9, 2000, 0.98, 2100, 0.9, 2150, 0.8],
    [0, 1.0, 0, 0.3, 100, 0.15, 200, 0.05, 300, 0.1, 400, 0.3, 450, 0.5, 500, 0.7, 530, 0.9, 555, 1.1, 555, 1.31, 600, 0.4, 650, 0.2, 700, 0.1, 800, 0.2, 900, 0.4, 950, 0.6, 1000, 0.9, 1034, 1.35, 1034, 1.1, 1100, 0.4, 1150, 0.2, 1200, 0.1, 1300, 0.15, 1400, 0.4, 1443, 1.18, 1443, 0.95, 1443, 0.7, 1500, 0.3, 1600, 0.15, 1650, 0.1],
    [0, 1.0, 22, 1.1, 22, 0.8, 22, 0.5, 50, 0.2, 100, 0.1, 200, 0.05, 300, 0.1, 400, 0.25, 466, 0.64, 466, 0.9, 466, 1.1, 500, 0.4, 600, 0.2, 700, 0.15, 800, 0.35, 910, 0.98, 910, 1.25, 910, 1.48, 950, 0.6, 1000, 0.4, 1088, 0.8, 1088, 0.5, 1088, 0.2, 1150, 0.1],
    [0, 1.0, 0, 0.3, 100, 0.1, 200, 0.05, 300, 0.05, 400, 0.15, 500, 0.3, 600, 0.55, 600, 0.7, 600, 0.85, 600, 1.0, 650, 0.4, 700, 0.6, 700, 0.35, 800, 0.15, 900, 0.05, 1000, 0.2, 1050, 0.3, 1100, 0.15],
    [0, 1.0, 0, 0.2, 100, 0.1, 200, 0.05, 300, 0.05, 400, 0.15, 450, 0.3, 500, 0.4, 550, 0.2, 650, 0.05, 750, 0.1, 800, 0.3, 821, 0.57, 850, 0.35, 950, 0.1, 1050, 0.05, 1150, 0.1, 1250, 0.15, 1350, 0.2, 1450, 0.3, 1550, 0.4, 1620, 0.5, 1700, 0.3, 1800, 0.15, 1880, 0.1],
    [0, 1.0, 0, 0.5, 100, 0.1, 200, 0.05, 300, 0.1, 400, 0.3, 500, 0.55, 550, 0.75, 600, 0.9, 650, 1.0, 700, 0.8, 750, 1.1, 800, 1.2, 850, 1.3, 900, 1.45, 920, 1.6, 950, 1.3, 1000, 1.1, 1050, 0.9, 1100, 0.8, 1200, 0.6, 1300, 0.45, 1350, 0.3, 1400, 0.2, 1450, 0.1, 1300, 2.0, 1450, 2.0, 1500, 0.3, 1600, 0.1],
    [0, 1.0, 0, 0.3, 100, 0.1, 200, 0.05, 300, 0.05, 400, 0.1, 500, 0.3, 550, 0.55, 574, 0.75, 574, 0.9, 600, 0.4, 650, 0.15, 750, 0.05, 850, 0.05, 950, 0.15, 1050, 0.3, 1100, 0.55, 1122, 0.7, 1122, 0.85, 1150, 0.35, 1250, 0.1, 1350, 0.05, 1450, 0.1, 1550, 0.3, 1600, 0.55, 1634, 0.7, 1634, 0.85, 1680, 0.3, 1750, 0.1, 1850, 0.1, 1950, 0.05],
    [0, 1.0, 0, 0.2, 100, 0.1, 200, 0.05, 300, 0.1, 400, 0.35, 428, 0.5, 428, 0.68, 470, 0.2, 550, 0.05, 650, 0.05, 750, 0.15, 850, 0.3, 940, 0.45, 940, 0.6, 1000, 0.2, 1100, 0.05, 1200, 0.05, 1300, 0.15, 1400, 0.3, 1500, 0.45, 1579, 0.7, 1579, 0.88, 1620, 0.3, 1670, 0.1],
    [0, 1.0, 0, 0.2, 100, 0.1, 200, 0.05, 300, 0.05, 400, 0.15, 500, 0.35, 556, 0.55, 556, 0.78, 600, 0.3, 700, 0.1, 800, 0.05, 900, 0.1, 1000, 0.2, 1100, 0.4, 1200, 0.6, 1287, 0.8, 1287, 1.05, 1350, 0.4, 1450, 0.15, 1550, 0.05, 1650, 0.15, 1700, 0.3, 1750, 0.55, 1798, 0.8, 1798, 1.05, 1850, 0.4, 1950, 0.15, 2050, 0.1, 2150, 0.1],
    [0, 1.0, 0, 0.3, 100, 0.1, 154, 0.04, 250, 0.1, 300, 0.2, 350, 0.3, 400, 0.4, 450, 0.5, 500, 0.6, 550, 0.7, 600, 0.8, 650, 0.9, 700, 1.0, 750, 1.1, 793, 1.21, 800, 0.9, 850, 0.6, 900, 0.3, 1000, 0.1, 1100, 0.05, 1200, 0.1, 1300, 0.3, 1350, 0.5, 1396, 0.64, 1396, 0.85, 1396, 1.08, 1450, 0.4],
    [0, 1.0, 0, 0.2, 100, 0.1, 200, 0.05, 300, 0.1, 373, 0.3, 373, 0.57, 420, 0.2, 500, 0.05, 600, 0.05, 700, 0.15, 794, 0.3, 794, 0.5, 850, 0.2, 950, 0.05, 1050, 0.1, 1150, 0.25, 1195, 0.5, 1250, 0.2, 1350, 0.05, 1450, 0.1, 1550, 0.2, 1652, 0.35, 1652, 0.57, 1700, 0.25, 1800, 0.1, 1900, 0.1, 1950, 0.2],
    [0, 1.0, 0, 0.3, 100, 0.15, 200, 0.05, 300, 0.1, 400, 0.3, 466, 0.6, 466, 0.9, 466, 1.28, 500, 0.4, 600, 0.2, 700, 0.1, 800, 0.15, 900, 0.3, 999, 0.57, 999, 0.8, 999, 1.05, 1050, 0.4, 1150, 0.2, 1250, 0.1, 1350, 0.15, 1450, 0.3, 1550, 0.5, 1674, 0.7, 1674, 0.95, 1674, 1.21, 1750, 0.3, 1850, 0.1],
    [0, 1.0, 0, 0.2, 100, 0.1, 200, 0.05, 300, 0.05, 400, 0.1, 500, 0.15, 600, 0.3, 700, 0.5, 733, 0.8, 733, 0.6, 750, 0.35, 800, 0.15, 900, 0.1, 1000, 0.05, 1100, 0.1, 1180, 0.05],
    [0, 1.0, 0, 0.3, 100, 0.1, 200, 0.05, 300, 0.1, 377, 0.57, 466, 0.98, 466, 0.81, 555, 1.38, 555, 1.25, 600, 0.3, 700, 0.15, 800, 0.2, 910, 0.98, 910, 0.81, 910, 0.44, 963, 1.6, 963, 1.18, 1000, 0.2, 1100, 0.1, 1200, 0.15, 1354, 0.68, 1390, 2.05, 1390, 1.5, 1390, 1.18, 1450, 0.2, 1550, 0.1, 1650, 0.15, 1750, 0.3, 1887, 1.78, 1887, 1.18, 1887, 0.84, 1887, 0.68, 1887, 0.44, 1887, 0.3, 1900, 0.1],
    [0, 1.0, 0, 0.3, 100, 0.1, 200, 0.05, 300, 0.1, 400, 0.25, 500, 0.45, 600, 0.65, 700, 0.85, 786, 1.05, 786, 1.25, 820, 0.6, 900, 0.2, 1000, 0.05, 1100, 0.1, 1200, 0.2, 1300, 0.35, 1400, 0.5, 1500, 0.7, 1600, 0.9, 1700, 1.1, 1709, 1.5, 1750, 1.75, 1800, 2.05, 1780, 1.3, 1850, 0.8, 1950, 0.4, 2050, 0.2, 2150, 0.1],
    [0, 1.0, 0, 0.3, 100, 0.1, 200, 0.05, 300, 0.2, 342, 0.84, 342, 1.08, 400, 0.3, 500, 0.1, 600, 0.2, 679, 0.81, 679, 1.05, 733, 0.64, 733, 0.4, 733, 0.24, 800, 0.1, 900, 0.05, 1000, 0.1, 1100, 0.05],
    [0, 1.0, 0, 0.3, 100, 0.1, 200, 0.05, 300, 0.2, 400, 0.45, 450, 0.7, 500, 0.9, 550, 0.5, 600, 0.3, 700, 0.15, 800, 0.1, 900, 0.1, 1000, 0.2, 1100, 0.35, 1200, 0.55, 1300, 0.75, 1354, 0.98, 1390, 1.28, 1400, 0.7, 1450, 0.2],
    [0, 1.0, 0, 0.2, 100, 0.1, 200, 0.05, 300, 0.1, 400, 0.2, 500, 0.35, 560, 0.5, 600, 0.65, 650, 0.75, 700, 0.85, 750, 0.6, 800, 0.3, 850, 0.15, 950, 0.05, 1050, 0.05, 1150, 0.1, 1250, 0.25, 1300, 0.4, 1350, 0.55, 1400, 0.7, 1450, 0.8, 1470, 0.6, 1500, 0.4, 1560, 0.2],
    [0, 1.0, 0, 0.44, 50, 0.3, 100, 0.2, 150, 0.1, 200, 0.05, 250, 0.3, 300, 0.15, 350, 0.4, 391, 0.88, 400, 0.2, 450, 0.1, 500, 0.3, 550, 0.15, 600, 0.05, 650, 0.35, 700, 0.2, 750, 0.1, 800, 0.4, 812, 0.84, 812, 1.25, 850, 0.2, 900, 0.05, 100, 0.05, 500, 0.05],
    [0, 1.0, 0, 0.2, 100, 0.1, 200, 0.05, 300, 0.1, 400, 0.3, 483, 0.54, 550, 0.2, 650, 0.05, 750, 0.1, 850, 0.2, 950, 0.35, 1031, 0.47, 1100, 0.2, 1200, 0.05, 1300, 0.1, 1400, 0.2, 1500, 0.3, 1600, 0.45, 1670, 0.54, 1750, 0.2, 1850, 0.1, 1950, 0.05, 2050, 0.1, 2150, 0.15, 2250, 0.1],
    [0, 1.0, 0, 0.3, 100, 0.1, 200, 0.05, 300, 0.2, 400, 0.4, 520, 0.84, 520, 0.6, 600, 0.2, 700, 0.1, 800, 0.3, 900, 0.2, 958, 1.14, 1000, 0.3, 1100, 0.1, 1200, 0.2, 1300, 0.15, 1400, 0.3, 1470, 0.8, 1470, 0.64, 1506, 1.11, 1550, 0.2, 1650, 0.1, 1750, 0.25, 1850, 0.3, 1926, 0.57, 2018, 1.25, 2000, 0.1],
    [0, 1.0, 0, 0.4, 50, 0.2, 100, 0.1, 150, 0.3, 200, 0.05, 250, 0.2, 300, 0.1, 350, 0.2, 400, 0.3, 430, 0.1, 500, 0.4, 520, 0.7, 550, 0.9, 570, 1.1, 580, 1.3, 600, 1.45, 610, 1.65, 600, 0.55, 650, 0.3],
    [0, 1.0, 0, 0.3, 100, 0.1, 200, 0.05, 300, 0.1, 400, 0.3, 464, 0.6, 464, 0.84, 500, 0.3, 600, 0.1, 700, 0.1, 800, 0.3, 921, 0.6, 921, 0.8, 950, 0.3, 1050, 0.1, 1150, 0.15, 1250, 0.3, 1350, 0.5, 1414, 0.7, 1414, 0.91, 1450, 0.4, 1550, 0.15, 1650, 0.1, 1750, 0.25, 1850, 0.45, 1889, 0.74, 1950, 0.3, 2050, 0.1, 2150, 0.2, 2250, 0.1],
    [0, 1.0, 0, 0.3, 100, 0.1, 200, 0.05, 300, 0.1, 400, 0.2, 500, 0.35, 600, 0.55, 650, 0.7, 700, 0.85, 733, 1.0, 733, 1.18, 780, 0.5, 850, 0.2, 950, 0.05, 1050, 0.2, 1150, 0.4, 1200, 0.6, 1265, 0.8, 1265, 1.0, 1265, 1.35, 1300, 2.27, 1300, 0.44],
    [0, 1.0, 0, 0.3, 100, 0.1, 200, 0.05, 300, 0.1, 400, 0.25, 500, 0.45, 600, 0.7, 644, 0.9, 644, 1.01, 700, 0.4, 800, 0.15, 900, 0.05, 1000, 0.1, 1100, 0.3, 1150, 0.6, 1176, 0.84, 1176, 0.7, 1250, 0.3, 1350, 0.1, 1450, 0.2, 1550, 0.5, 1620, 0.7, 1620, 0.84, 1700, 0.3, 1800, 0.1, 1900, 0.15, 1976, 0.1],
    [0, 1.0, 0, 0.3, 100, 0.1, 200, 0.05, 300, 0.15, 400, 0.4, 466, 0.7, 466, 1.0, 466, 1.25, 502, 2.19, 550, 0.3, 650, 0.15, 750, 0.3, 850, 0.5, 945, 0.8, 945, 1.45, 945, 1.88, 1000, 0.3, 1100, 0.15, 1200, 0.4, 1300, 0.9, 1354, 1.25, 1354, 1.82, 1400, 0.3, 1500, 0.2, 1585, 0.47, 1650, 0.3],
    [0, 1.0, 0, 0.2, 100, 0.1, 200, 0.05, 300, 0.1, 400, 0.2, 500, 0.3, 600, 0.35, 700, 0.45, 800, 0.5, 900, 0.55, 1000, 0.6, 1100, 0.65, 1200, 0.7, 1300, 0.75, 1400, 0.75, 1500, 0.75, 1600, 0.7, 1650, 0.5, 1750, 0.1, 1850, 0.05, 1950, 0.05, 2050, 0.05, 500, 0.1, 700, 0.2, 900, 0.3, 1100, 0.4, 1300, 0.5, 1500, 0.6],
    [0, 1.0, 0, 0.3, 100, 0.1, 200, 0.05, 300, 0.1, 400, 0.3, 500, 0.5, 600, 0.7, 697, 0.9, 697, 1.2, 697, 1.55, 750, 0.5, 850, 0.2, 1000, 0.04, 1100, 0.2, 1200, 0.35, 1300, 0.5, 1400, 0.7, 1500, 0.85, 1600, 1.0, 1700, 1.15, 1800, 1.3, 1887, 1.45, 1900, 1.0, 2030, 0.4, 2030, 0.2],
    [0, 1.0, 0, 0.15, 100, 0.1, 200, 0.08, 300, 0.1, 400, 0.1, 500, 0.12, 600, 0.15, 700, 0.18, 800, 0.2, 900, 0.25, 950, 0.3, 1000, 0.2, 1100, 0.1, 1200, 0.08, 1300, 0.1, 1400, 0.08, 1500, 0.1],
    [0, 1.0, 0, 0.3, 100, 0.1, 200, 0.05, 300, 0.1, 400, 0.2, 500, 0.4, 600, 0.6, 700, 0.85, 800, 1.05, 850, 1.2, 900, 0.7, 1000, 0.3, 1100, 0.1, 1200, 0.15, 1300, 0.3, 1400, 0.55, 1500, 0.75, 1600, 0.95, 1700, 1.1, 1800, 1.2, 1900, 1.35, 1950, 1.45, 1950, 1.0],
    [0, 1.0, 0, 0.3, 100, 0.1, 200, 0.05, 300, 0.1, 400, 0.25, 500, 0.45, 600, 0.65, 700, 0.85, 770, 1.0, 800, 0.6, 900, 0.3, 1000, 0.1, 1100, 0.05, 1200, 0.15, 1300, 0.35, 1400, 0.55, 1500, 0.75, 1600, 1.0, 1700, 1.1, 1800, 1.38, 1800, 0.6],
    [0, 1.0, 0, 0.3, 100, 0.1, 200, 0.05, 300, 0.1, 400, 0.3, 500, 0.5, 600, 0.7, 700, 0.9, 800, 1.1, 840, 1.5, 850, 1.2, 900, 0.6, 1000, 0.2, 1100, 0.05, 1200, 0.15, 1300, 0.3, 1400, 0.5, 1500, 0.7, 1600, 0.9, 1700, 1.05, 1800, 1.2, 1880, 1.5, 1900, 0.8, 2000, 0.4, 2100, 0.15],
    [0, 1.0, 0, 0.3, 100, 0.1, 200, 0.05, 300, 0.1, 400, 0.3, 450, 0.35, 500, 0.2, 600, 0.1, 700, 0.15, 800, 0.25, 900, 0.35, 950, 0.25, 1050, 0.1, 1150, 0.15, 1250, 0.3, 1350, 0.35, 1450, 0.2, 1550, 0.1, 1650, 0.2, 1750, 0.3, 1850, 0.35, 1950, 0.2, 2050, 0.1, 2150, 0.2, 2250, 0.25],
    [0, 1.0, 0, 0.3, 100, 0.1, 200, 0.05, 300, 0.1, 390, 0.89, 400, 0.3, 464, 1.73, 500, 0.2, 607, 0.75, 679, 1.33, 700, 0.3, 800, 0.25, 858, 0.8, 900, 0.3, 1000, 0.4, 1038, 1.61, 1110, 1.24, 1150, 0.5, 1254, 1.61, 1300, 0.7, 1326, 0.52, 1400, 0.9],
    [0, 1.0, 0, 0.3, 100, 0.1, 200, 0.05, 300, 0.1, 400, 0.2, 500, 0.3, 550, 0.45, 600, 0.2, 700, 0.1, 800, 0.15, 900, 0.3, 1000, 0.45, 1050, 0.3, 1150, 0.1, 1250, 0.15, 1350, 0.3, 1450, 0.45, 1550, 0.25, 1650, 0.1, 1750, 0.2, 1850, 0.3, 1950, 0.45, 2050, 0.25, 2150, 0.15, 2250, 0.2],
    [0, 1.0, 0, 0.3, 100, 0.1, 200, 0.05, 300, 0.15, 400, 0.3, 500, 0.5, 550, 0.75, 600, 0.9, 650, 0.4, 750, 0.15, 850, 0.1, 950, 0.2, 1050, 0.4, 1100, 0.6, 1150, 0.75, 1200, 0.9, 1250, 0.5, 1350, 0.3, 1450, 0.2, 1540, 0.1],
    [0, 1.0, 0, 0.3, 50, 0.15, 100, 0.2, 150, 0.3, 200, 0.4, 250, 0.5, 300, 0.6, 350, 0.7, 400, 0.85, 450, 1.0, 500, 1.15, 550, 1.3, 592, 1.53, 600, 1.2, 600, 0.9],
    [0, 1.0, 0, 0.3, 100, 0.1, 200, 0.05, 300, 0.2, 400, 0.3, 500, 0.35, 600, 0.5, 675, 1.65, 700, 0.6, 800, 0.5, 900, 0.7, 1000, 0.8, 1100, 1.2, 1200, 1.3, 1250, 1.8, 1300, 2.0, 1350, 1.4, 1400, 0.9, 1450, 0.5],
    [0, 1.0, 0, 0.2, 100, 0.1, 200, 0.05, 300, 0.1, 400, 0.15, 500, 0.2, 600, 0.25, 700, 0.3, 800, 0.2, 900, 0.1, 1000, 0.05, 1100, 0.1, 1200, 0.15, 1300, 0.2, 1400, 0.25, 1500, 0.3, 1600, 0.25, 1700, 0.15, 1800, 0.1, 1900, 0.15, 2000, 0.2, 2100, 0.3, 2150, 0.25],
    [0, 1.0, 0, 0.3, 100, 0.1, 200, 0.05, 300, 0.1, 400, 0.2, 500, 0.35, 600, 0.5, 700, 0.65, 800, 0.8, 900, 0.95, 950, 0.6, 1000, 0.3, 1100, 0.1, 1200, 0.05, 1300, 0.05, 1380, 0.05],
    [0, 1.0, 0, 0.3, 100, 0.1, 200, 0.05, 300, 0.1, 400, 0.25, 500, 0.35, 600, 0.2, 700, 0.1, 800, 0.2, 900, 0.35, 1000, 0.3, 1100, 0.15, 1200, 0.2, 1300, 0.35, 1400, 0.4, 1500, 0.25, 1600, 0.2, 1700, 0.3, 1800, 0.35, 1900, 0.45, 2000, 0.5, 2100, 0.55, 2150, 0.45],
    [0, 1.0, 0, 0.1, 100, 0.05, 200, 0.05, 300, 0.1, 400, 0.25, 500, 0.3, 600, 0.5, 650, 0.6, 700, 0.7, 750, 0.55, 800, 0.75, 850, 0.8, 900, 0.7, 950, 0.85, 1000, 0.95, 1050, 1.05, 1100, 1.1, 1150, 0.9, 1200, 0.6, 1250, 0.4, 1300, 0.1, 1400, 0.05, 1450, 0.2, 1500, 0.4, 1550, 0.55, 1600, 0.7, 1650, 0.8, 1700, 0.9, 1750, 0.85, 1650, 0.45, 1500, 0.1],
    [0, 1.0, 0, 0.3, 50, 0.15, 100, 0.05, 200, 0.05, 300, 0.05, 400, 0.15, 450, 0.3, 500, 0.45, 550, 0.6, 600, 0.75, 620, 0.85, 650, 0.5, 700, 0.2, 750, 0.05, 850, 0.05, 950, 0.05, 1050, 0.2, 1100, 0.4, 1150, 0.6, 1200, 0.8, 1230, 0.95, 1260, 1.0, 1300, 0.6, 1350, 0.3, 1400, 0.1, 1500, 0.05, 1600, 0.05],
    [0, 1.0, 0, 0.3, 100, 0.1, 200, 0.05, 300, 0.1, 400, 0.3, 500, 0.5, 600, 0.7, 700, 0.9, 780, 1.1, 850, 0.7, 950, 0.3, 1050, 0.1, 1150, 0.1, 1250, 0.2, 1350, 0.35, 1450, 0.5, 1550, 0.6, 1650, 0.75, 1750, 0.9, 1800, 0.7, 1900, 0.35, 2000, 0.15],
    [0, 1.0, 0, 0.3, 100, 0.1, 200, 0.05, 300, 0.15, 400, 0.35, 500, 0.6, 550, 0.85, 600, 0.4, 700, 0.15, 800, 0.05, 900, 0.15, 1000, 0.35, 1100, 0.6, 1150, 0.85, 1200, 0.4, 1300, 0.15, 1400, 0.05, 1500, 0.15, 1600, 0.35, 1700, 0.6, 1750, 0.85, 1800, 0.4, 1900, 0.15, 2000, 0.05, 2100, 0.1, 2200, 0.15],
    [0, 1.0, 0, 0.3, 100, 0.1, 200, 0.05, 300, 0.1, 400, 0.2, 500, 0.3, 600, 0.4, 700, 0.5, 800, 0.55, 900, 0.6, 1000, 0.7, 1100, 0.75, 1200, 0.8, 1300, 0.4, 1400, 0.2, 1500, 0.1, 1600, 0.3, 1700, 0.5, 1800, 0.6, 1900, 0.65, 2000, 0.7, 2100, 0.6, 2200, 0.75, 2300, 0.8],
    [0, 1.0, 0, 0.3, 100, 0.1, 200, 0.05, 300, 0.15, 400, 0.3, 450, 0.4, 500, 0.2, 600, 0.1, 700, 0.2, 800, 0.35, 850, 0.55, 900, 0.3, 1000, 0.15, 1100, 0.25, 1200, 0.4, 1250, 0.2, 1300, 0.1],
    [0, 1.0, 0, 0.3, 100, 0.1, 200, 0.05, 300, 0.2, 400, 0.9, 450, 0.4, 500, 1.1, 600, 0.8, 650, 0.3, 700, 0.6, 800, 1.0, 850, 0.4, 900, 0.7, 1000, 1.1, 1050, 0.3, 1100, 0.9, 1200, 0.6, 1250, 0.2, 1300, 0.8, 1350, 0.5, 1400, 0.2, 1500, 0.1],
]

BLUE = '#2c4b8a'
GREEN = '#2f5120'
RED = '#6a0808'
INK = '#262626'


def pairs(flat):
    return np.array(flat, dtype=float).reshape(-1, 2).T


fig, axes = plt.subplots(6, 12, figsize=(30, 15), dpi=150, sharex=True, sharey=True)
fig.subplots_adjust(left=0.0204, right=0.9676, bottom=0.0511, top=0.9649,
                    wspace=0.818, hspace=0.455)

axes[0, 0].set_xlim(-120, 2420)
axes[0, 0].set_ylim(0, 2.5)
axes[0, 0].set_xticks([0, 2000])
axes[0, 0].set_yticks([0, 2])

for i, ax in enumerate(axes.flat):
    for s in ax.spines.values():
        s.set_color('#333333')
        s.set_linewidth(1.2)
    if i >= len(panel_ids):
        ax.tick_params(length=0, labelsize=16, colors=INK, pad=8)
        continue
    ax.tick_params(axis='y', length=6, width=1.2, labelsize=27, colors=INK, pad=3)
    ax.tick_params(axis='x', length=0, labelsize=27, colors=INK, pad=8)

    # protocol strip on top
    ax.broken_barh([(a, b - a) for a, b in stim_on[i]], (2.12, 0.6),
                   facecolors='black', zorder=4)
    ax.plot([0, stim_end[i]], [2.12, 2.12], color='black', lw=1.5, zorder=4)

    bx, by = pairs(fit_blue[i])
    ax.plot(bx, by, color=BLUE, lw=5.5, solid_capstyle='round',
            solid_joinstyle='round', zorder=2)
    g = fit_green[i] if fit_green[i] is not None else fit_blue[i]
    gx, gy = pairs(g)
    ax.plot(gx, gy, color=GREEN, lw=5.5, ls='--', dash_joinstyle='round', zorder=2.1)
    rx, ry = pairs(fit_red[i])
    ax.plot(rx, ry, color=RED, lw=5.5, ls='--', zorder=2.2)

    ox, oy = pairs(obs[i])
    ax.plot(ox, oy, 'X', color='black', ms=13, mew=0, zorder=3)

    ax.set_title(f"{panel_ids[i]};R2={r2_values[i]:.2f}", fontsize=17, color=INK, pad=6)

fig.savefig("out.png", dpi=150)
